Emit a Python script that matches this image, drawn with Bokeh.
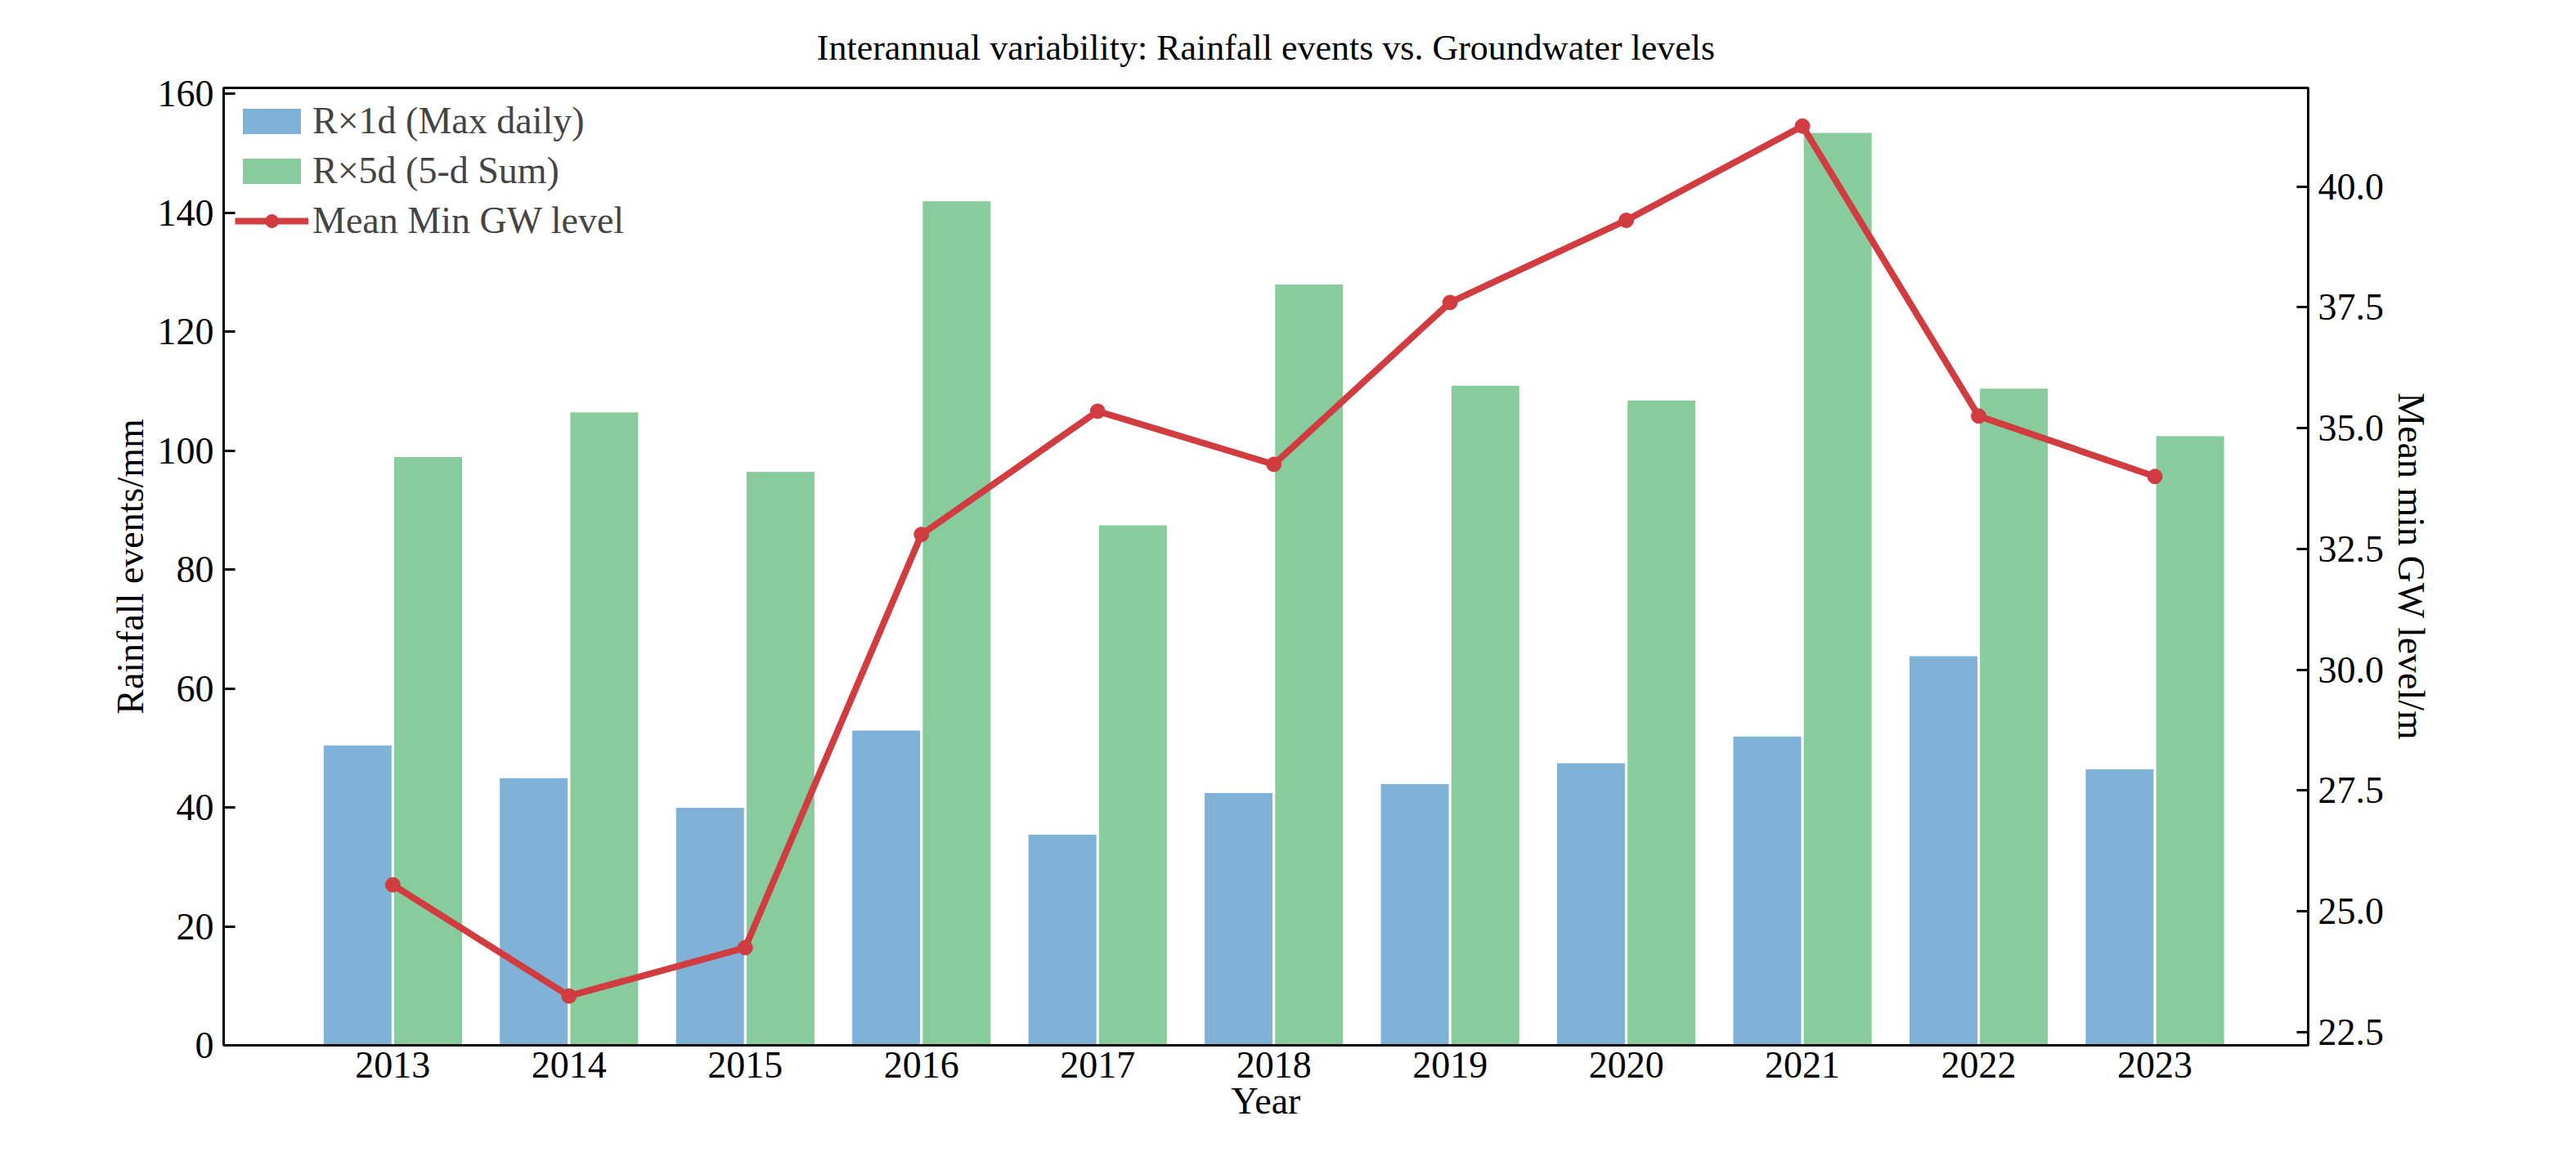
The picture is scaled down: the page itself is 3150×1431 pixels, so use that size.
from bokeh.plotting import figure
from bokeh.models import Range1d, LinearAxis, Legend, LegendItem, FixedTicker
from bokeh.embed import file_html
from bokeh.resources import INLINE

years = [2013, 2014, 2015, 2016, 2017, 2018, 2019, 2020, 2021, 2022, 2023]
rx1d = [50.5, 45, 40, 53, 35.5, 42.5, 44, 47.5, 52, 65.5, 46.5]
rx5d = [99, 106.5, 96.5, 142, 87.5, 128, 111, 108.5, 153.5, 110.5, 102.5]
gw = [25.55, 23.25, 24.25, 32.8, 35.35, 34.25, 37.6, 39.3, 41.25, 35.25, 34.0]
left_ticks = [0, 20, 40, 60, 80, 100, 120, 140, 160]
right_ticks = [22.5, 25.0, 27.5, 30.0, 32.5, 35.0, 37.5, 40.0]

F = "Liberation Serif"
p = figure(width=3134, height=1415, output_backend="svg", toolbar_location=None,
           x_range=Range1d(2012.04, 2023.87), y_range=Range1d(0, 161),
           min_border_left=273, min_border_right=312, min_border_top=107, min_border_bottom=137,
           title="Interannual variability: Rainfall events vs. Groundwater levels")
p.title.text_font = F
p.title.text_font_size = "44px"
p.title.text_font_style = "normal"
p.title.text_color = "black"
p.title.align = "center"
p.title.offset = 0
p.title.standoff = 50
p.extra_y_ranges = {"gw": Range1d(22.23, 42.04)}
p.grid.visible = False
p.outline_line_color = "black"
p.outline_line_width = 3

b1 = p.vbar(x=[y - 0.2 for y in years], top=rx1d, width=0.39, fill_color="#7fb2d6",
            line_color="white", line_width=1)
b2 = p.vbar(x=[y + 0.2 for y in years], top=rx5d, width=0.39, fill_color="#88cc9d",
            line_color="white", line_width=1)
l = p.line(years, gw, y_range_name="gw", line_color="#d03c40", line_width=8)
c = p.scatter(years, gw, y_range_name="gw", size=18, fill_color="#d03c40", line_color="#d03c40")

ra = LinearAxis(y_range_name="gw", axis_label="Mean min GW level/m")
p.add_layout(ra, "right")
ra.ticker = FixedTicker(ticks=right_ticks)
ra.major_label_overrides = {t: f"{t:.1f}" for t in right_ticks}
ra.axis_label_orientation = "vertical"
p.yaxis[0].ticker = FixedTicker(ticks=left_ticks)
p.yaxis[0].axis_label = "Rainfall events/mm"
p.xaxis.ticker = FixedTicker(ticks=years)
p.xaxis.axis_label = "Year"
for ax in p.axis:
    ax.axis_label_text_font = F
    ax.axis_label_text_font_style = "normal"
    ax.axis_label_text_font_size = "46px"
    ax.axis_label_text_color = "black"
    ax.major_label_text_font = F
    ax.major_label_text_font_size = "46px"
    ax.major_label_text_color = "black"
    ax.axis_line_width = 3
    ax.major_tick_line_width = 3
    ax.major_tick_in = 14
    ax.major_tick_out = 0
    ax.minor_tick_line_color = None
    ax.major_label_standoff = 12
p.xaxis.major_tick_line_color = None
p.xaxis.axis_label_standoff = 0
p.xaxis.major_label_standoff = 8

leg = Legend(items=[LegendItem(label="R×1d (Max daily)", renderers=[b1]),
                    LegendItem(label="R×5d (5-d Sum)", renderers=[b2]),
                    LegendItem(label="Mean Min GW level", renderers=[l, c])],
             location="top_left", border_line_color=None, background_fill_alpha=0,
             label_text_font=F, label_text_font_size="46px", glyph_width=90, glyph_height=40,
             spacing=8, margin=14, padding=8)
p.add_layout(leg)

open("out.html", "w").write(file_html(p, INLINE))
